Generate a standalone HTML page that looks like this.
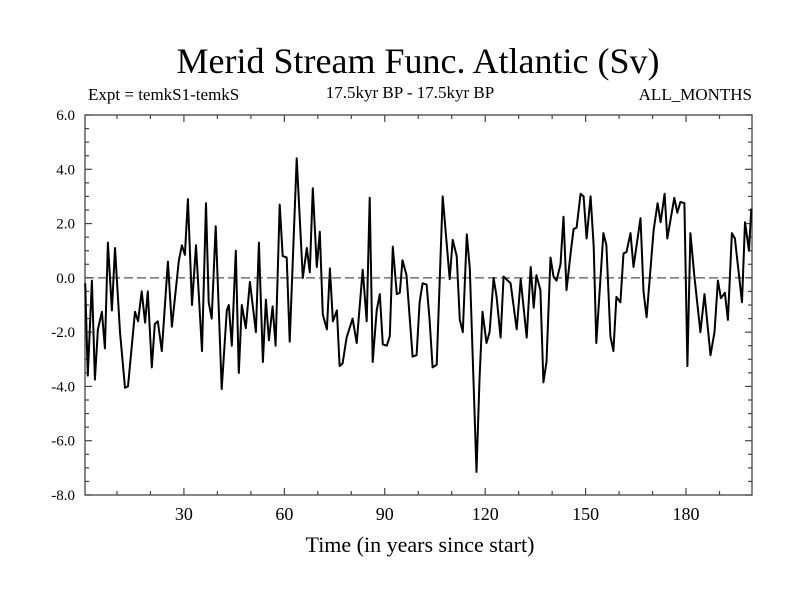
<!DOCTYPE html>
<html><head><meta charset="utf-8"><style>
body{margin:0;background:#fff}
svg{display:block}
text{font-family:"Liberation Serif",serif;fill:#000}
</style></head><body>
<svg id="chart" width="800" height="600">
<rect width="800" height="600" fill="#fff"/>
<text x="418" y="73" font-size="36" text-anchor="middle">Merid Stream Func. Atlantic (Sv)</text>
<text x="88" y="100" font-size="17">Expt = temkS1-temkS</text>
<text x="410" y="98" font-size="17" text-anchor="middle">17.5kyr BP - 17.5kyr BP</text>
<text x="752" y="100" font-size="17" text-anchor="end">ALL_MONTHS</text>
<text x="420" y="552" font-size="22" text-anchor="middle">Time (in years since start)</text>
<g id="axes"></g>
<g id="series"></g>
</svg>
<script>
const years=[0.5,1.3,2.5,3.4,4.3,5.5,6.4,7.3,8.5,9.4,10.9,12.4,13.3,15.4,16.3,17.4,18.4,19.2,20.4,21.3,22.2,23.4,25.2,26.4,28.5,29.4,30.3,31.2,32.4,33.6,35.4,36.6,37.4,38.3,39.5,41.3,42.8,43.4,44.3,45.5,46.4,47.3,48.5,49.7,51.5,52.4,53.6,54.5,55.4,56.5,57.4,58.6,59.5,60.7,61.6,63.7,65.5,66.7,67.6,68.5,69.7,70.6,71.5,72.7,73.6,74.5,75.7,76.5,77.4,78.6,80.4,81.6,83.4,84.6,85.5,86.4,87.6,88.5,89.4,90.6,91.5,92.4,93.6,94.5,95.3,96.5,98.3,99.5,100.4,101.3,102.5,103.4,104.3,105.5,107.3,109.4,110.3,111.5,112.4,113.3,114.5,115.4,117.4,118.3,119.2,120.4,121.3,122.5,123.4,124.6,125.5,127.6,129.4,130.6,132.4,133.6,134.5,135.3,136.5,137.4,138.3,139.5,140.4,141.3,142.5,143.4,144.3,145.5,146.4,147.3,148.5,149.4,150.3,151.5,152.4,153.2,155.3,156.2,157.4,158.3,159.2,160.4,161.3,162.2,163.4,164.3,166.4,167.3,168.2,170.3,171.5,172.4,173.6,174.4,176.5,177.4,178.3,179.5,180.4,181.3,182.5,184.3,185.5,187.3,188.5,189.5,190.4,191.6,192.5,193.7,194.6,196.7,197.6,198.8,199.5];
const values=[-0.2,-3.6,-0.1,-3.75,-1.9,-1.25,-2.6,1.3,-1.2,1.1,-2.0,-4.05,-4.0,-1.25,-1.6,-0.5,-1.65,-0.5,-3.3,-1.7,-1.6,-2.7,0.6,-1.8,0.65,1.2,0.85,2.9,-1.0,1.2,-2.7,2.75,-0.9,-1.5,1.9,-4.1,-1.2,-1.0,-2.5,1.0,-3.5,-1.0,-1.85,-0.15,-2.0,1.3,-3.1,-0.8,-2.3,-1.05,-2.5,2.7,0.8,0.75,-2.35,4.4,0.0,1.1,0.2,3.3,0.4,1.7,-1.35,-1.9,0.35,-1.6,-1.2,-3.25,-3.15,-2.2,-1.5,-2.4,0.3,-1.6,2.95,-3.1,-1.2,-0.6,-2.45,-2.5,-2.15,1.15,-0.6,-0.55,0.65,0.1,-2.9,-2.85,-0.9,-0.2,-0.25,-1.55,-3.3,-3.2,3.0,-0.05,1.4,0.8,-1.55,-2.0,1.6,0.35,-7.15,-3.75,-1.25,-2.4,-2.0,0.0,-0.7,-2.2,0.05,-0.2,-1.9,-0.05,-2.2,0.4,-1.1,0.1,-0.45,-3.85,-3.1,0.75,0.05,-0.1,0.5,2.25,-0.45,0.9,1.8,1.85,3.1,3.0,1.45,3.0,1.15,-2.4,1.65,1.2,-2.15,-2.7,-0.7,-0.9,0.9,0.95,1.65,0.4,2.2,-0.5,-1.45,1.75,2.75,2.05,3.1,1.45,2.95,2.4,2.8,2.75,-3.25,1.65,0.05,-2.0,-0.6,-2.85,-2.0,-0.1,-0.75,-0.55,-1.55,1.65,1.45,-0.9,2.05,1.0,2.55];
const xTicks=[30,60,90,120,150,180];
const yTicks=[6,4,2,0,-2,-4,-6,-8];
const yTickLabels=["6.0","4.0","2.0","0.0","-2.0","-4.0","-6.0","-8.0"];
const X0=85,X1=752,Y0=115,Y1=495,xMin=0.45,xMax=199.7,yMin=-8,yMax=6;
function xs(v){return X0+(v-xMin)/(xMax-xMin)*(X1-X0);}
function ys(v){return Y1-(v-yMin)/(yMax-yMin)*(Y1-Y0);}
const NS="http://www.w3.org/2000/svg";
const axes=document.getElementById('axes'),ser=document.getElementById('series');
function mk(tag,attrs,parent){const e=document.createElementNS(NS,tag);for(const k in attrs)e.setAttribute(k,attrs[k]);parent.appendChild(e);return e;}
const zl=mk('line',{x1:X0,x2:X1,y1:ys(0),y2:ys(0),stroke:'#555','stroke-width':1.3,'stroke-dasharray':'9,4'},axes);


const fr=mk('rect',{x:X0,y:Y0,width:X1-X0,height:Y1-Y0,fill:'none',stroke:'#444','stroke-width':1.3},axes);


for(let t=10;t<=190;t+=10){
  const maj=xTicks.includes(t),L=maj?7:4,x=xs(t);
  mk('line',{x1:x,x2:x,y1:Y1,y2:Y1-L,stroke:'#444','stroke-width':1.2},axes);
  mk('line',{x1:x,x2:x,y1:Y0,y2:Y0+L,stroke:'#444','stroke-width':1.2},axes);
}
xTicks.forEach(t=>{
  const tx=mk('text',{x:xs(t),y:520,'font-size':18,'text-anchor':'middle'},axes);
  tx.textContent=t;
  
  
});
for(let v=-8;v<=6.001;v+=0.5){
  const maj=Math.abs(v/2-Math.round(v/2))<1e-6,L=maj?7:4,y=ys(v);
  mk('line',{x1:X0,x2:X0+L,y1:y,y2:y,stroke:'#444','stroke-width':1.2},axes);
  mk('line',{x1:X1,x2:X1-L,y1:y,y2:y,stroke:'#444','stroke-width':1.2},axes);
}
yTicks.forEach((v,i)=>{
  const tx=mk('text',{x:75,y:ys(v)+5,'font-size':15,'text-anchor':'end'},axes);
  tx.textContent=yTickLabels[i];
  
  
});
const pts=years.map((y,i)=>xs(y).toFixed(1)+','+ys(values[i]).toFixed(1)).join(' ');
const pl=mk('polyline',{points:pts,fill:'none',stroke:'#000','stroke-width':2,'stroke-linejoin':'round'},ser);


</script>
</body></html>
